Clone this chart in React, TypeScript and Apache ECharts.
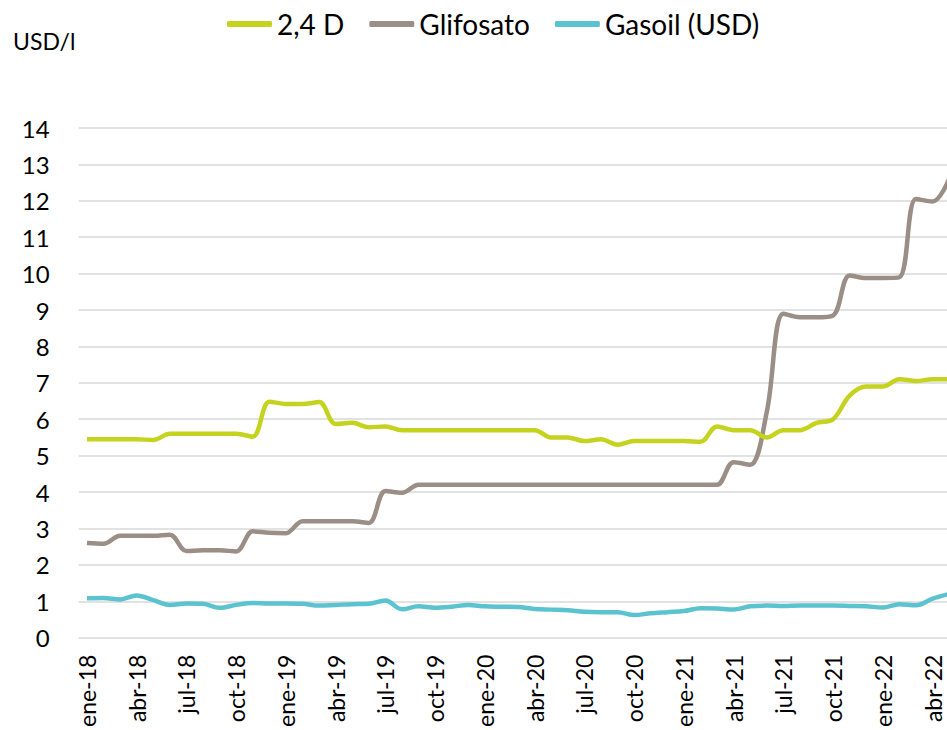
import React, { useEffect, useRef } from "react";
import * as echarts from "echarts";

const months = ["ene", "feb", "mar", "abr", "may", "jun", "jul", "ago", "sep", "oct", "nov", "dic"];
const years = ["18", "19", "20", "21", "22"];
const categories: string[] = [];
for (const y of years) for (const m of months) categories.push(m + "-" + y);
const cats = categories.slice(0, 53); // ene-18 .. may-22

const d24: number[] = [
  5.45, 5.45, 5.45, 5.45, 5.43, 5.6, 5.6, 5.6, 5.6, 5.6, 5.52, 6.48,
  6.42, 6.42, 6.47, 5.87, 5.9, 5.78, 5.8, 5.7, 5.7, 5.7, 5.7, 5.7,
  5.7, 5.7, 5.7, 5.7, 5.5, 5.5, 5.4, 5.45, 5.3, 5.4, 5.4, 5.4,
  5.4, 5.38, 5.8, 5.7, 5.7, 5.5, 5.7, 5.7, 5.9, 6.0, 6.65, 6.9,
  6.9, 7.1, 7.05, 7.1, 7.1,
];
const glifosato: number[] = [
  2.6, 2.58, 2.8, 2.8, 2.8, 2.83, 2.38, 2.4, 2.4, 2.37, 2.92, 2.88,
  2.87, 3.2, 3.2, 3.2, 3.2, 3.15, 4.03, 3.98, 4.2, 4.2, 4.2, 4.2,
  4.2, 4.2, 4.2, 4.2, 4.2, 4.2, 4.2, 4.2, 4.2, 4.2, 4.2, 4.2,
  4.2, 4.2, 4.2, 4.82, 4.75, 6.2, 8.9, 8.8, 8.8, 8.85, 9.95, 9.88,
  9.88, 9.9, 12.05, 11.98, 12.6,
];
const gasoil: number[] = [
  1.08, 1.09, 1.05, 1.16, 1.03, 0.9, 0.94, 0.93, 0.82, 0.9, 0.95, 0.94,
  0.94, 0.93, 0.88, 0.9, 0.92, 0.93, 1.02, 0.78, 0.86, 0.82, 0.85, 0.9,
  0.86, 0.85, 0.84, 0.79, 0.77, 0.75, 0.71, 0.7, 0.7, 0.62, 0.67, 0.7,
  0.73, 0.81, 0.8, 0.77, 0.86, 0.88, 0.87, 0.88, 0.88, 0.88, 0.87, 0.86,
  0.83, 0.92, 0.89, 1.07, 1.2,
];

const seriesNames = ["2,4 D", "Glifosato", "Gasoil (USD)"];
const colors = ["#C5D21E", "#9A8E86", "#5BC3CF"];
const FONT = "Lato, 'Noto Sans', sans-serif";

export default function App() {
  const ref = useRef<HTMLDivElement>(null);
  useEffect(() => {
    if (!ref.current) return;
    const chart = echarts.init(ref.current, undefined, { renderer: "svg" });
    const band = 16.58;
    chart.setOption({
      animation: false,
      textStyle: { fontFamily: FONT },
      legend: {
        left: 227,
        top: 10,
        padding: 0,
        itemWidth: 45,
        itemHeight: 6,
        itemGap: 25,
        icon: "roundRect",
        textStyle: { fontSize: 28, color: "#000", fontFamily: FONT },
        data: seriesNames,
      },
      graphic: [
        {
          type: "text",
          left: 13,
          top: 29,
          style: { text: "USD/l", fontSize: 23, fill: "#000", fontFamily: FONT },
        },
      ],
      grid: { left: 78.7, top: 128, width: band * cats.length, height: 510 },
      xAxis: {
        type: "category",
        data: cats,
        boundaryGap: true,
        axisLine: { show: false },
        axisTick: { show: false },
        axisLabel: {
          interval: 2,
          rotate: 90,
          margin: 17,
          fontSize: 23,
          color: "#000",
          fontFamily: FONT,
        },
      },
      yAxis: {
        type: "value",
        min: 0,
        max: 14,
        interval: 1,
        axisLine: { show: false },
        axisTick: { show: false },
        axisLabel: { fontSize: 24, color: "#000", margin: 29, fontFamily: FONT },
        splitLine: { lineStyle: { color: "#D9D9D9", width: 1.5 } },
      },
      series: [d24, glifosato, gasoil].map((data, i) => ({
        name: seriesNames[i],
        type: "line",
        data,
        smooth: 0.35,
        symbol: "none",
        itemStyle: { color: colors[i] },
        lineStyle: { color: colors[i], width: 4.5 },
        z: 3 - i,
      })),
    });
    return () => chart.dispose();
  }, []);
  return (
    <div style={{ position: "absolute", left: 0, top: 0, width: 947, height: 730, overflow: "hidden", background: "#fff" }}>
      <div ref={ref} style={{ width: 960, height: 730 }} />
    </div>
  );
}
